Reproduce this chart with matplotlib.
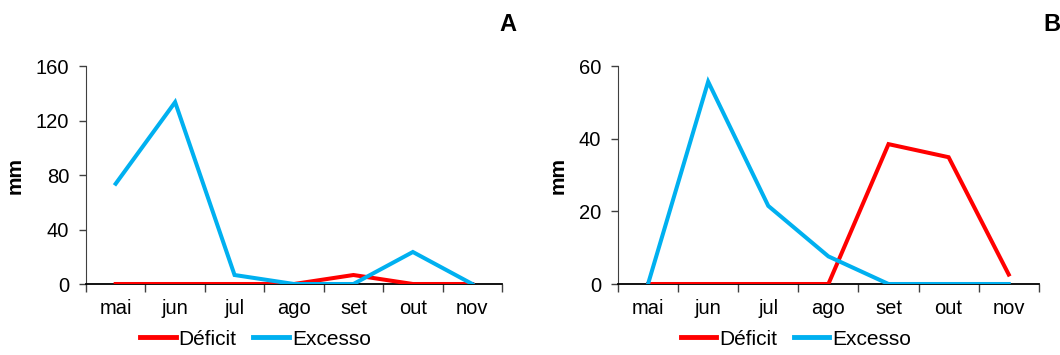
import matplotlib.pyplot as plt
from matplotlib.ticker import FixedLocator, NullFormatter
from matplotlib.lines import Line2D

plt.rcParams['font.family'] = ['Liberation Sans', 'DejaVu Sans']

months = ['mai', 'jun', 'jul', 'ago', 'set', 'out', 'nov']

deficit_a = [0, 0, 0, 0, 6.6, 0, 0]
excesso_a = [73.6, 133.5, 6.6, 0, 0, 23.5, 0]

deficit_b = [0, 0, 0, 0, 38.5, 34.9, 2.6]
excesso_b = [0, 55.7, 21.5, 7.6, 0, 0, 0]

RED = '#FF0000'
BLUE = '#00B0F0'
AXC = '#404040'
FS = 14.5

fig = plt.figure(figsize=(10.6, 3.55), dpi=100)


def panel(rect, deficit, excesso, ymax, ystep, letter, letter_x, legend_x):
    ax = fig.add_axes(rect)
    x = list(range(len(months)))
    ax.plot(x, deficit, color=RED, lw=2.9, solid_joinstyle='miter', zorder=3)
    ax.plot(x, excesso, color=BLUE, lw=2.9, solid_joinstyle='miter', zorder=3)
    ax.set_xlim(-0.5, len(months) - 0.5)
    ax.set_ylim(0, ymax)
    ax.set_yticks(range(0, ymax + 1, ystep))
    # category boundaries get tick marks, centres get the labels
    ax.xaxis.set_major_locator(FixedLocator([i - 0.5 for i in range(len(months) + 1)]))
    ax.xaxis.set_major_formatter(NullFormatter())
    ax.set_xticks(x, minor=True)
    ax.set_xticklabels(months, minor=True)
    ax.tick_params(axis='x', which='major', length=6, width=1, color=AXC, direction='out')
    ax.tick_params(axis='x', which='minor', length=0, pad=11, labelsize=FS)
    ax.tick_params(axis='y', length=5, width=1, color=AXC, labelsize=FS, pad=7)
    for s in ('top', 'right'):
        ax.spines[s].set_visible(False)
    ax.spines['left'].set_color(AXC)
    ax.spines['bottom'].set_color('#000000')
    ax.spines['bottom'].set_linewidth(1.3)
    ax.set_ylabel('mm', fontsize=15, fontweight='bold', labelpad=8)
    fig.text(letter_x, 0.93, letter, fontsize=17, fontweight='bold', ha='center', va='center')
    handles = [Line2D([], [], color=RED, lw=3.5), Line2D([], [], color=BLUE, lw=3.5)]
    fig.legend(handles, ['Déficit', 'Excesso'], loc='center', bbox_to_anchor=(legend_x, 0.045),
               ncol=2, frameon=False, fontsize=15, handlelength=1.7, handletextpad=0.15,
               columnspacing=0.8, borderpad=0.2)
    return ax


panel([0.0811, 0.2, 0.3925, 0.614], deficit_a, excesso_a, 160, 40, 'A', 0.479, 0.241)
panel([0.583, 0.2, 0.397, 0.614], deficit_b, excesso_b, 60, 20, 'B', 0.992, 0.751)

fig.savefig('out.png', dpi=100)
